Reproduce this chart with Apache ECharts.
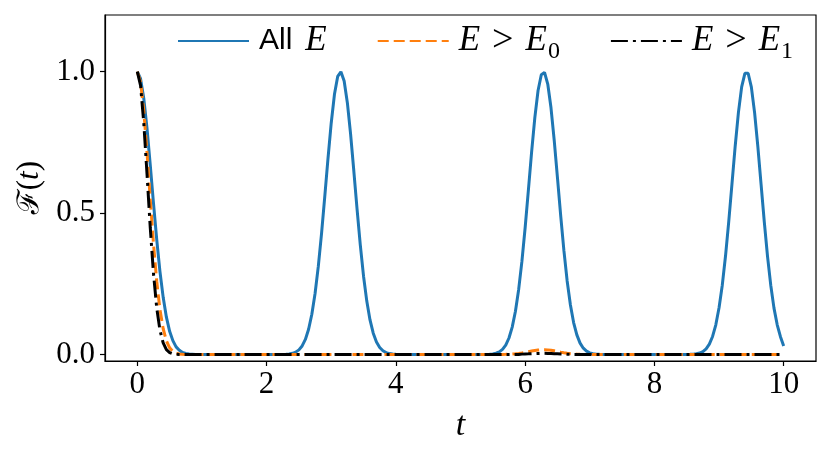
<!DOCTYPE html>
<html>
<head>
<meta charset="utf-8">
<script src="https://cdn.jsdelivr.net/npm/echarts@6/dist/echarts.min.js"></script>
<style>
html,body{margin:0;padding:0;background:#fff;}
#chart{width:831px;height:452px;}
</style>
</head>
<body>
<div id="chart"></div>
<script>
// ---- data ----
const seriesNames = ['All E', 'E > E0', 'E > E1'];
const xTicks = [0, 2, 4, 6, 8, 10];
const yTicks = [0, 0.5, 1.0];

// F(t) for all energies: [t, F]
const allE = [
  [0,1],[0.05,0.975],[0.1,0.905],[0.15,0.799],[0.2,0.67],[0.25,0.535],[0.3,0.407],[0.35,0.294],[0.4,0.202],[0.45,0.132],[0.5,0.082],[0.55,0.049],[0.6,0.027],[0.65,0.015],[0.7,0.007],[0.75,0.004],[0.8,0.002],[0.85,0.001],[0.9,0],
  [2.2,0],[2.25,0.0003],[2.3,0.0008],[2.35,0.0019],[2.4,0.0041],[2.45,0.0084],[2.5,0.0163],[2.55,0.0302],[2.6,0.0532],[2.65,0.0892],[2.7,0.1423],[2.75,0.2157],[2.8,0.3114],[2.85,0.4273],[2.9,0.5577],[2.95,0.6928],[3.0,0.8183],[3.05,0.9195],[3.1,0.9828],[3.15,0.9993],[3.2,0.9665],[3.25,0.8891],[3.3,0.7781],[3.35,0.6477],[3.4,0.5129],[3.45,0.3863],[3.5,0.2768],[3.55,0.1887],[3.6,0.1223],[3.65,0.0754],[3.7,0.0442],[3.75,0.0247],[3.8,0.0131],[3.85,0.0066],[3.9,0.0032],[3.95,0.0015],[4.0,0.0006],[4.05,0],
  [5.35,0],[5.4,0.0004],[5.45,0.001],[5.5,0.0022],[5.55,0.0046],[5.6,0.0094],[5.65,0.0181],[5.7,0.0333],[5.75,0.0583],[5.8,0.0968],[5.85,0.153],[5.9,0.23],[5.95,0.329],[6.0,0.448],[6.05,0.58],[6.1,0.715],[6.15,0.837],[6.2,0.933],[6.25,0.989],[6.3,0.997],[6.35,0.956],[6.4,0.872],[6.45,0.757],[6.5,0.625],[6.55,0.491],[6.6,0.367],[6.65,0.26],[6.7,0.176],[6.75,0.113],[6.8,0.0692],[6.85,0.0403],[6.9,0.0223],[6.95,0.0117],[7.0,0.0059],[7.05,0.0028],[7.1,0.0013],[7.15,0.0005],[7.2,0],
  [8.5,0],[8.55,0.0005],[8.6,0.0011],[8.65,0.0025],[8.7,0.0052],[8.75,0.0105],[8.8,0.0202],[8.85,0.0367],[8.9,0.0637],[8.95,0.105],[9.0,0.165],[9.05,0.245],[9.1,0.348],[9.15,0.47],[9.2,0.603],[9.25,0.737],[9.3,0.856],[9.35,0.946],[9.4,0.994],[9.45,0.994],[9.5,0.945],[9.55,0.855],[9.6,0.736],[9.65,0.602],[9.7,0.469],[9.75,0.347],[9.8,0.245],[9.85,0.164],[9.9,0.105],[9.95,0.063],[10,0.03]
];

// F(t) restricted to E > E0
const aboveE0 = [
  [0,1],[0.05,0.963],[0.1,0.861],[0.15,0.714],[0.2,0.549],[0.25,0.392],[0.3,0.259],[0.35,0.159],[0.4,0.091],[0.45,0.048],[0.5,0.0235],[0.55,0.0107],[0.6,0.0045],[0.65,0.0018],[0.7,0.0006],[0.75,0],
  [5.6,0],[5.65,0.0003],[5.7,0.0006],[5.75,0.001],[5.8,0.0016],[5.85,0.0026],[5.9,0.0039],[5.95,0.0056],[6.0,0.0076],[6.05,0.0099],[6.1,0.0122],[6.15,0.0142],[6.2,0.0159],[6.25,0.0168],[6.3,0.0169],[6.35,0.0163],[6.4,0.0148],[6.45,0.0129],[6.5,0.0106],[6.55,0.0083],[6.6,0.0062],[6.65,0.0044],[6.7,0.003],[6.75,0.0019],[6.8,0.0012],[6.85,0.0007],[6.9,0.0004],[6.95,0],
  [10,0]
];

// F(t) restricted to E > E1
const aboveE1 = [
  [0,1],[0.05,0.951],[0.1,0.819],[0.15,0.638],[0.2,0.449],[0.25,0.287],[0.3,0.165],[0.35,0.086],[0.4,0.041],[0.45,0.017],[0.5,0.0067],[0.55,0.0024],[0.6,0.0007],[0.65,0],
  [5.9,0],[5.95,0.0013],[6.0,0.0018],[6.05,0.0023],[6.1,0.0029],[6.15,0.0033],[6.2,0.0037],[6.25,0.004],[6.3,0.004],[6.35,0.0038],[6.4,0.0035],[6.45,0.003],[6.5,0.0025],[6.55,0.002],[6.6,0.0015],[6.65,0.001],[6.7,0.0007],[6.75,0],
  [10,0]
];

// ---- chart ----
const SERIF = "'Liberation Serif','DejaVu Serif',serif";
const chart = echarts.init(document.getElementById('chart'), null, {renderer: 'canvas'});

const legendRich = {
  s: {fontFamily: "'Liberation Sans','DejaVu Sans',sans-serif", fontSize: 30, color: '#000', lineHeight: 36, padding: [0, 13, 0, 0]},
  m: {fontFamily: SERIF, fontStyle: 'italic', fontSize: 35, color: '#000', lineHeight: 36},
  r: {fontFamily: SERIF, fontSize: 38, color: '#000', lineHeight: 36, padding: [0, 12, 0, 12]},
  sub: {fontFamily: SERIF, fontSize: 24, color: '#000', lineHeight: 24, padding: [22, 0, 0, 1]}
};

function legendFormatter(name) {
  if (name === seriesNames[0]) return '{s|All}{m|E}';
  if (name === seriesNames[1]) return '{m|E}{r|>}{m|E}{sub|0}';
  return '{m|E}{r|>}{m|E}{sub|1}';
}

const option = {
  animation: false,
  backgroundColor: '#fff',
  grid: {left: 105, right: 15, top: 15, bottom: 91, show: true, borderColor: '#000', borderWidth: 1.2, containLabel: false},
  legend: {
    left: 177, top: 18, padding: 0,
    itemWidth: 71, itemHeight: 14, itemGap: 50,
    data: seriesNames,
    formatter: legendFormatter,
    itemStyle: {opacity: 0},
    textStyle: {rich: legendRich, padding: [0, 0, 0, 5]},
    selectedMode: false
  },
  xAxis: {
    type: 'value', min: -0.5, max: 10.5,
    splitLine: {show: false},
    axisLine: {show: true, onZero: false, lineStyle: {color: '#000', width: 1.2}},
    axisTick: {show: true, length: 5, lineStyle: {color: '#000', width: 1.2}, customValues: xTicks},
    axisLabel: {customValues: xTicks, fontFamily: SERIF, fontSize: 31, color: '#000', margin: 8,
      formatter: v => String(v)},
    name: 't', nameLocation: 'middle', nameGap: 48,
    nameTextStyle: {fontFamily: SERIF, fontStyle: 'italic', fontSize: 34, color: '#000'}
  },
  yAxis: {
    type: 'value', min: -0.023, max: 1.2,
    splitLine: {show: false},
    axisLine: {show: true, onZero: false, lineStyle: {color: '#000', width: 1.2}},
    axisTick: {show: true, length: 5, lineStyle: {color: '#000', width: 1.2}, customValues: yTicks},
    axisLabel: {customValues: yTicks, fontFamily: SERIF, fontSize: 31, color: '#000', margin: 10,
      formatter: v => v.toFixed(1)},
    name: '{f|ℱ}{r|(}{m|t}{r|)}', nameLocation: 'middle', nameGap: 55, nameRotate: 90,
    nameTextStyle: {rich: {
      f: {fontFamily: "'DejaVu Serif','Noto Sans',serif", fontStyle: 'italic', fontSize: 30, color: '#000'},
      r: {fontFamily: SERIF, fontSize: 31, color: '#000'},
      m: {fontFamily: SERIF, fontStyle: 'italic', fontSize: 31, color: '#000'}
    }}
  },
  series: [
    {name: seriesNames[0], type: 'line', data: allE, symbol: 'none', z: 2,
      lineStyle: {color: '#1f77b4', width: 3}, itemStyle: {color: '#1f77b4'}},
    {name: seriesNames[1], type: 'line', data: aboveE0, symbol: 'none', z: 3,
      lineStyle: {color: '#ff7f0e', width: 3, type: [11, 5]}, itemStyle: {color: '#ff7f0e'}},
    {name: seriesNames[2], type: 'line', data: aboveE1, symbol: 'none', z: 4,
      lineStyle: {color: '#000', width: 3, type: [17, 5, 3, 5]}, itemStyle: {color: '#000'}}
  ]
};
chart.setOption(option);
</script>
</body>
</html>
